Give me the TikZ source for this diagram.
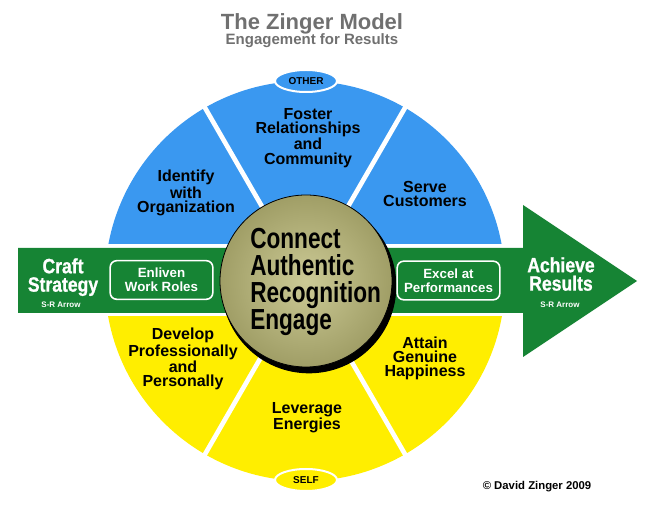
\documentclass[tikz,border=0pt]{standalone}
\usepackage{fontspec}
\setmainfont{Liberation Sans}
\newfontfamily\carefont[FakeStretch=0.78]{Liberation Sans}
\newfontfamily\bannerfont[FakeStretch=0.85,FakeBold=1]{Liberation Sans}
\usetikzlibrary{shapes.geometric}

\definecolor{wheelblue}{RGB}{58,152,240}
\definecolor{wheelyellow}{RGB}{255,238,0}
\definecolor{arrowgreen}{RGB}{22,132,52}
\definecolor{titlegray}{RGB}{112,112,112}

\tikzstyle{segment} = [align=center, inner sep=0pt, font=\bfseries\fontsize{12}{10.6}\selectfont]
\tikzstyle{role} = [rectangle, rounded corners=5pt, draw=white, line width=1.2pt, fill=arrowgreen, text=white, align=center, minimum width=77pt, minimum height=29pt, inner sep=0pt, font=\bfseries\fontsize{10}{10.2}\selectfont]
\tikzstyle{pole} = [ellipse, draw=white, line width=1.5pt, minimum width=46.5pt, minimum height=16.5pt, inner sep=0pt, font=\bfseries\fontsize{7.5}{7.5}\selectfont]
\tikzstyle{banner} = [text=white, align=center, inner sep=0pt, font=\bannerfont\bfseries\fontsize{15.5}{13.8}\selectfont]
\tikzstyle{arrowtag} = [text=white, inner sep=0pt, font=\bfseries\fontsize{6}{6}\selectfont]

\begin{document}
\begin{tikzpicture}[x=0.75pt, y=0.75pt]
    %\draw[step=10,gray,very thin] (0,0) grid (650,507);
    \useasboundingbox (0,0) rectangle (650,507);
    \coordinate (hub) at (305,226);
    % wheel halves
    \begin{scope}
        \clip (0,263) rectangle (650,507);
        \fill[wheelblue] (hub) circle (150pt);
    \end{scope}
    \begin{scope}
        \clip (0,0) rectangle (650,190);
        \fill[wheelyellow] (hub) circle (150pt);
    \end{scope}
    \foreach \a in {60,120,240,300}
        \draw[white, line width=3.5pt] (hub) -- ++(\a:210);
    % S-R arrow
    \fill[arrowgreen] (18,194) -- (18,259) -- (523,259) -- (523,302) -- (637,226) -- (523,150) -- (523,194) -- cycle;
    % centre disc
    \fill[black] (309,221) circle (65.5pt);
    \shade[inner color={rgb,255:red,204;green,202;blue,150}, outer color={rgb,255:red,160;green,158;blue,102}] (306,226) circle (64.5pt);
    \draw[black, line width=0.6pt] (306,226) circle (64.5pt);
	\node (care) [anchor=north west, align=left, inner sep=0pt, font=\carefont\bfseries\fontsize{21.75}{20.25}\selectfont] at (250,279) {Connect\\Authentic\\Recognition\\Engage};
	\node (organization) [segment] at (186,314) {Identify\\with\\Organization};
	\node (community) [segment] at (308,369) {Foster\\Relationships\\and\\Community};
	\node (customers) [segment] at (425,313) {Serve\\Customers};
	\node (growth) [segment] at (183,148) {Develop\\Professionally\\and\\Personally};
	\node (happiness) [segment] at (425,149) {Attain\\Genuine\\Happiness};
	\node (energies) [segment] at (307,89) {Leverage\\Energies};
	\node (other) [pole, fill=wheelblue] at (306,426) {OTHER};
	\node (self) [pole, fill=wheelyellow] at (306,27) {SELF};
	\node (enliven) [role] at (161.5,227) {Enliven\\Work Roles};
	\node (excel) [role] at (448.5,226.5) {Excel at\\Performances};
	\node (craft) [banner, anchor=north] at (63,249) {Craft\\Strategy};
	\node (achieve) [banner, anchor=north] at (561,250) {Achieve\\Results};
	\node (craft tag) [arrowtag] at (61,202) {S-R Arrow};
	\node (achieve tag) [arrowtag] at (560,202) {S-R Arrow};
	\node (title) [anchor=base, text=titlegray, font=\bfseries\fontsize{16.5}{16.5}\selectfont] at (312,477) {The Zinger Model};
	\node (subtitle) [anchor=base, text=titlegray, font=\bfseries\fontsize{11.25}{11.25}\selectfont] at (312,462) {Engagement for Results};
	\node (credit) [font=\bfseries\fontsize{8.5}{8.5}\selectfont] at (537,20) {© David Zinger 2009};
\end{tikzpicture}
\end{document}
